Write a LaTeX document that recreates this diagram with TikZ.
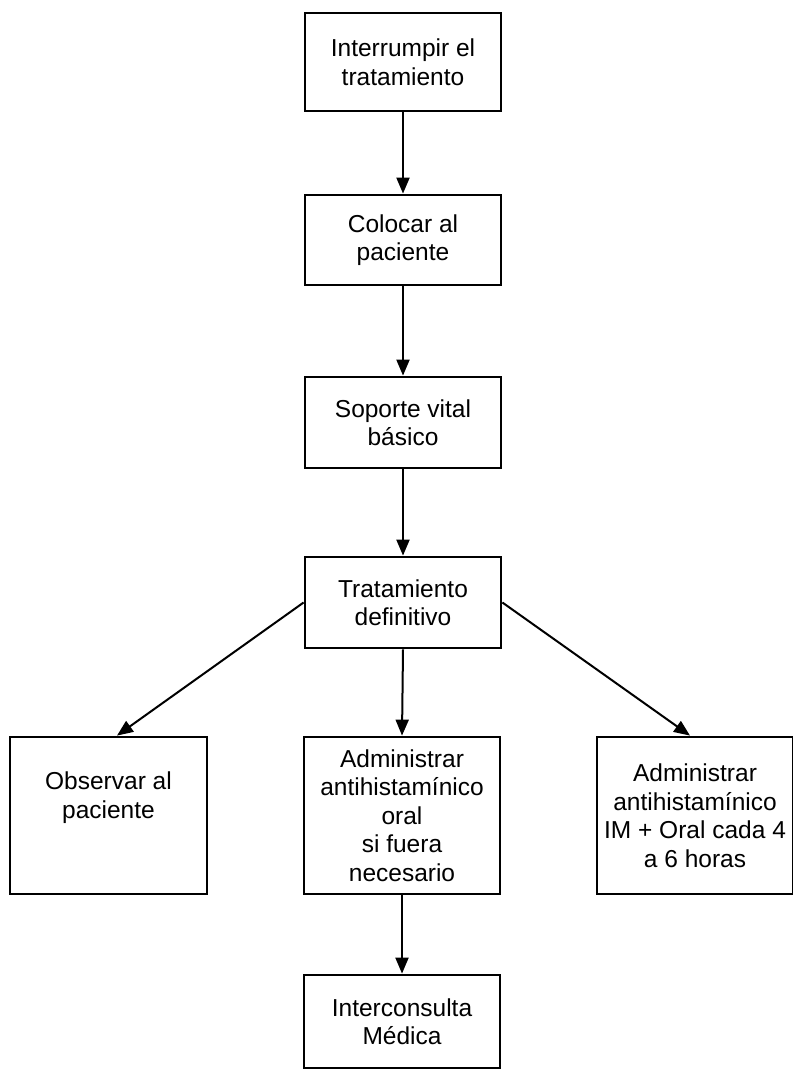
\documentclass[tikz,border=0pt]{standalone}
\usepackage{fontspec}
\setmainfont{Liberation Sans}
\usetikzlibrary{arrows.meta, positioning}

\begin{document}
\begin{tikzpicture}[x=1pt, y=-1pt,
    every node/.style={font=\fontsize{24.5}{28.5}\selectfont, align=center},
    stepbox/.style={draw, line width=2.8pt, minimum width=196pt, minimum height=91pt, inner sep=0pt},
    tallbox/.style={stepbox, minimum height=157pt},
    flow/.style={-{Triangle[length=16pt, width=13pt]}, line width=2pt}]
    \useasboundingbox (0,0) rectangle (792,1070);

    \node[stepbox, minimum height=98pt] (stop) at (403, 62) {Interrumpir el\\tratamiento};
    \node[stepbox, minimum height=90pt] (place) at (403, 240) {Colocar al\\paciente};
    \node[stepbox] (basic) at (403, 422.5) {Soporte vital\\básico};
    \node[stepbox] (final) at (403, 602.5) {Tratamiento\\definitivo};
    \node[tallbox, minimum width=197pt] (watch) at (108.5, 815.5) {};
    \node[inner sep=0pt, below=36pt of watch.north] (watchtext) {Observar al\\paciente};
    \node[tallbox] (oral) at (402, 815.5) {Administrar\\antihistamínico\\oral\\si fuera\\necesario};
    \node[tallbox] (inject) at (695, 815.5) {Administrar\\antihistamínico\\IM + Oral cada 4\\a 6 horas};
    \node[stepbox, minimum height=93pt] (consult) at (402, 1021.5) {Interconsulta\\Médica};

    \draw[flow] (stop) -- (place);
    \draw[flow] (place) -- (basic);
    \draw[flow] (basic) -- (final);
    \draw[flow] (final.west) -- ([xshift=8.5pt]watch.north);
    \draw[flow] (final.south) -- (oral.north);
    \draw[flow] (final.east) -- ([xshift=-5pt]inject.north);
    \draw[flow] (oral) -- (consult);
\end{tikzpicture}
\end{document}
